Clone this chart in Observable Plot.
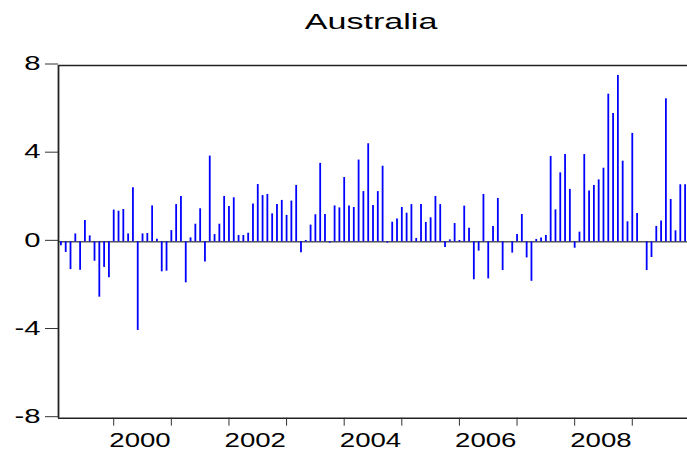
<!DOCTYPE html>
<html><head><meta charset="utf-8">
<script src="https://cdn.jsdelivr.net/npm/d3@7"></script>
<script src="https://cdn.jsdelivr.net/npm/@observablehq/plot@0.6"></script>
<style>body{margin:0;background:#fff;}</style>
</head><body><div id="chart"></div>
<script>
const title = "Australia";
const startYear = 1999;
const startMonth = 2;
const values = [
  -0.18, -0.48, -1.26, 0.36, -1.29, 0.97, 0.27, -0.88, -2.51, -1.16, -1.63,
  1.44, 1.39, 1.47, 0.36, 2.45, -4.02, 0.36, 0.38, 1.63, 0.12, -1.36, -1.33,
  0.51, 1.69, 2.06, -1.86, 0.18, 0.80, 1.50, -0.91, 3.89, 0.33, 0.80, 2.06,
  1.60, 2.00, 0.29, 0.29, 0.39, 1.72, 2.60, 2.10, 2.15, 1.27, 1.69, 1.88,
  1.20, 1.85, 2.56, -0.50, 0.06, 0.76, 1.23, 3.56, 1.24, -0.06, 1.63, 1.54,
  2.92, 1.63, 1.56, 3.71, 2.28, 4.45, 1.65, 2.28, 3.43, -0.06, 0.89, 1.04,
  1.56, 1.30, 1.69, 0.15, 1.69, 0.88, 1.09, 2.06, 1.69, -0.26, 0.09, 0.83,
  0.06, 1.62, 0.62, -1.72, -0.42, 2.15, -1.68, 0.70, 1.97, -1.30, 0.00, -0.51,
  0.33, 1.24, -0.73, -1.79, 0.11, 0.18, 0.29, 3.87, 1.45, 3.13, 3.96, 2.38,
  -0.29, 0.44, 3.96, 2.31, 2.56, 2.81, 3.34, 6.70, 5.82, 7.55, 3.66, 0.91,
  4.92, 1.29, 0.00, -1.30, -0.71, 0.70, 0.95, 6.49, 1.92, 0.50, 2.59, 2.59
];
const yTicks = [-8, -4, 0, 4, 8];
const xTickYears = [2000, 2001, 2002, 2003, 2004, 2005, 2006, 2007, 2008, 2009];
const xLabelYears = [2000, 2002, 2004, 2006, 2008];

const data = values.map((v, i) => ({t: startYear + (startMonth - 1 + i) / 12, v}));
const half = 1 / 24;
const xDomain = [data[0].t - half, data[data.length - 1].t + half];
const yDomain = [d3.min(yTicks), d3.max(yTicks)];

const chart = Plot.plot({
  width: 687,
  height: 456,
  marginLeft: 58,
  marginRight: 0,
  marginTop: 65,
  marginBottom: 38.3,
  style: {fontFamily: "'Liberation Sans', Arial, sans-serif", color: "#000", background: "#fff"},
  x: {type: "linear", domain: xDomain, axis: null, label: null},
  y: {domain: yDomain, axis: null, label: null},
  marks: [
    Plot.ruleY([0], {stroke: "#000", strokeWidth: 1}),
    Plot.ruleX(data, {x: "t", y1: 0, y2: "v", stroke: "#0000ff", strokeWidth: 1.8}),
    Plot.ruleY(yDomain, {stroke: "#222", strokeWidth: 1.5}),
    Plot.ruleX([xDomain[0]], {stroke: "#222", strokeWidth: 1.8}),
    Plot.axisY({ticks: yTicks, tickSize: 13, tickPadding: 5, fontSize: 19.5, stroke: "#333",
      tickFormat: d => String(d), dy: -1.5, label: null}),
    Plot.axisX({ticks: xTickYears, tickSize: 8, stroke: "#333", tickFormat: () => "", label: null}),
    Plot.axisX({ticks: xLabelYears.map(y => y + 0.5), tickSize: 0, tickPadding: 15, fontSize: 20,
      tickFormat: d => String(Math.floor(d)), dx: -2.5, label: null}),
    Plot.text([title], {frameAnchor: "top", dy: -37, dx: -2, fontSize: 22, lineAnchor: "bottom"})
  ]
});
document.getElementById("chart").append(chart);

const yStr = new Set(yTicks.map(String));
const xStr = new Set(xLabelYears.map(String));
chart.querySelectorAll("text").forEach(t => {
  const s = t.textContent.trim();
  let f = 0;
  if (s === title) f = 1.55;
  else if (yStr.has(s)) f = 1.5;
  else if (xStr.has(s)) f = 1.38;
  if (!f) return;
  const w = t.getComputedTextLength();
  if (w > 0) {
    t.setAttribute("textLength", (w * f).toFixed(2));
    t.setAttribute("lengthAdjust", "spacingAndGlyphs");
  }
});
</script>
</body></html>
